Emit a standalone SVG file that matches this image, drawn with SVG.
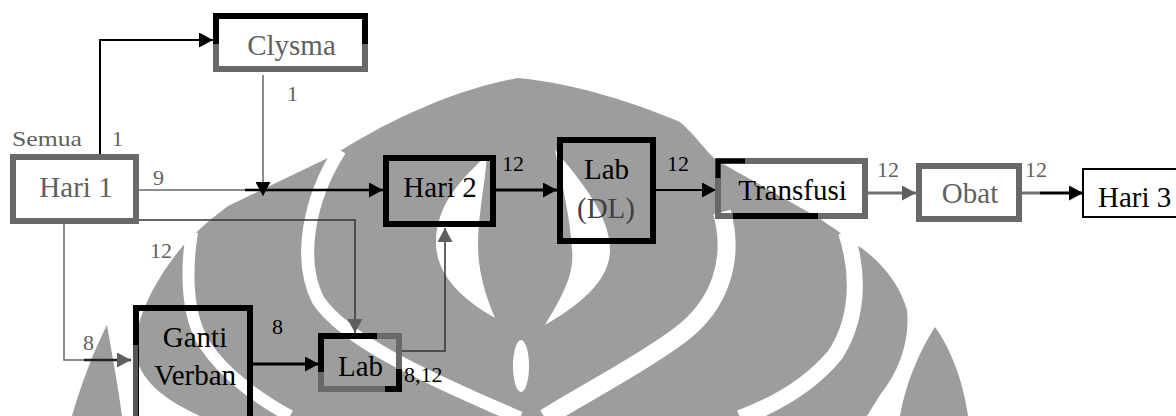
<svg xmlns="http://www.w3.org/2000/svg" width="1176" height="416" viewBox="0 0 1176 416">
<defs>
<style>
.lbl{font-size:29px;}
.num{font-size:22px;}
.c{text-anchor:middle;}
.g{fill:#606060;}
.k{fill:#000;}
.bg{fill:none;stroke:#696969;stroke-width:6;}
.bk{fill:none;stroke:#000;stroke-width:6;}
.wm{fill:#9d9d9d;}
.wb{fill:none;stroke:#fff;}
.ln{fill:none;}
</style>
<marker id="ab" markerUnits="userSpaceOnUse" markerWidth="14" markerHeight="15" viewBox="0 0 14 15" refX="14" refY="7.5" orient="auto"><path d="M0,0 L14,7.5 L0,15 Z" fill="#000"/></marker>
<marker id="ag" markerUnits="userSpaceOnUse" markerWidth="14" markerHeight="15" viewBox="0 0 14 15" refX="14" refY="7.5" orient="auto"><path d="M0,0 L14,7.5 L0,15 Z" fill="#5e5e5e"/></marker>
</defs>
<rect width="1176" height="416" fill="#fff"/>
<g id="watermark">
<path class="wm" d="M72,416 C85,372 97,345 107,325 C112,355 118,385 122,416 Z"/>
<path class="wm" d="M200,416 C165,400 138,380 135,350 C134,318 160,270 190,238 L210,220 L228,206 L334,155 C380,125 450,90 518,78 C580,84 640,105 680,122 C695,135 705,150 716,160 L817,217 C825,222 830,226 835,229 L852,242 C880,258 900,285 907,310 C910,340 900,370 880,395 L867,416 Z"/>
<path class="wm" d="M900,416 C905,385 920,350 935,327 C948,345 962,375 968,416 Z"/>
<path class="wb" stroke-width="12" d="M192,232 C186,270 186,315 205,345 C225,375 260,400 290,416"/>
<path class="wb" stroke-width="13" d="M340,150 C308,200 298,260 318,300 C345,340 420,375 520,418"/>
<path fill="#fff" d="M487,155 C460,180 437,205 436,240 C435,270 455,295 495,318 C485,295 478,270 478,245 C478,215 485,185 487,155 Z"/>
<path fill="#fff" d="M555,150 C580,180 610,215 610,250 C610,280 580,305 545,325 C560,300 575,275 572,250 C570,215 562,185 555,150 Z"/>
<ellipse cx="521" cy="366" rx="8" ry="26" fill="#fff"/>
<path class="wb" stroke-width="18" d="M722,212 C735,260 720,305 680,335 C640,365 590,390 545,418"/>
<path class="wb" stroke-width="16" d="M846,232 C860,275 858,320 835,355 C810,385 775,405 740,418"/>
</g>
<g id="connectors">
<path class="ln" stroke="#000" stroke-width="2" d="M100,154 V40 H213" marker-end="url(#ab)"/>
<path class="ln" stroke="#666" stroke-width="1.5" d="M263,75 V196" marker-end="url(#ab)"/>
<path class="ln" stroke="#666" stroke-width="1.5" d="M139,190 H245"/>
<path class="ln" stroke="#000" stroke-width="2.5" d="M245,190 H383" marker-end="url(#ab)"/>
<path class="ln" stroke="#000" stroke-width="3" d="M496,190 H557" marker-end="url(#ab)"/>
<path class="ln" stroke="#000" stroke-width="2" d="M656,190 H716" marker-end="url(#ab)"/>
<path class="ln" stroke="#707070" stroke-width="3" d="M868,193 H916" marker-end="url(#ag)"/>
<path class="ln" stroke="#707070" stroke-width="3" d="M1022,193 H1040"/>
<path class="ln" stroke="#000" stroke-width="3" d="M1040,193 H1083" marker-end="url(#ab)"/>
<path class="ln" stroke="#333" stroke-width="1.5" d="M139,220 H355 V333" marker-end="url(#ag)"/>
<path class="ln" stroke="#666" stroke-width="1.5" d="M64,224 V360 H84"/>
<path class="ln" stroke="#222" stroke-width="2.5" d="M84,360 H131" marker-end="url(#ag)"/>
<path class="ln" stroke="#000" stroke-width="3" d="M253,364 H319" marker-end="url(#ab)"/>
<path class="ln" stroke="#333" stroke-width="1.5" d="M402,351 H445 V228" marker-end="url(#ag)"/>
</g>
<g font-family="'Liberation Serif', 'Times New Roman', serif">
<g id="clysma">
<rect class="bg" x="216" y="16" width="149" height="53"/>
<path class="bk" d="M216,44 V16 H365 V44"/>
<text class="lbl c g" x="291.5" y="55">Clysma</text>
</g>
<g id="hari1">
<rect class="bg" x="13" y="157" width="123" height="64"/>
<text class="lbl c g" x="76" y="197">Hari 1</text>
<text class="num g" x="12" y="146" font-size="23" textLength="70" lengthAdjust="spacingAndGlyphs">Semua</text>
</g>
<g id="hari2">
<rect class="bk" x="386" y="158" width="107" height="66"/>
<text class="lbl c k" x="440" y="197">Hari 2</text>
</g>
<g id="labdl">
<rect class="bk" x="560" y="140" width="93" height="101"/>
<text class="lbl c k" x="606.5" y="179">Lab</text>
<text class="lbl c" x="606" y="218" fill="#404040">(DL)</text>
</g>
<g id="transfusi">
<rect class="bg" x="718" y="161" width="147" height="55"/>
<path fill="none" stroke="#000" stroke-width="5" d="M718,178 V161 H745"/>
<path fill="none" stroke="#000" stroke-width="6" d="M733,216 H818"/>
<text class="lbl c k" x="792.5" y="200">Transfusi</text>
</g>
<g id="obat">
<rect class="bg" x="919" y="166" width="100" height="53"/>
<text class="lbl c g" x="970" y="203">Obat</text>
</g>
<g id="hari3">
<rect x="1083" y="169" width="100" height="48" fill="#fff" stroke="#000" stroke-width="2"/>
<text class="lbl k" x="1098" y="207">Hari 3</text>
</g>
<g id="gantiverban">
<rect class="bk" x="136" y="308" width="114" height="120"/>
<path fill="none" stroke="#555" stroke-width="5" d="M135.5,345 V416"/>
<text class="lbl c k" x="195" y="347">Ganti</text>
<text class="lbl c k" x="195" y="385">Verban</text>
</g>
<g id="lab">
<rect class="bg" x="321" y="336" width="78" height="53"/>
<path class="bk" d="M321,372 V336 H377"/>
<path class="bk" d="M399,369 V389 H385"/>
<text class="lbl c k" x="360.5" y="376">Lab</text>
</g>
<g id="labels">
<text class="num g" x="112" y="146">1</text>
<text class="num g" x="287" y="101">1</text>
<text class="num g" x="153" y="185">9</text>
<text class="num g" x="150" y="258">12</text>
<text class="num g" x="83" y="350">8</text>
<text class="num k" x="272" y="334">8</text>
<text class="num k" x="404" y="382">8,12</text>
<text class="num k" x="502" y="171">12</text>
<text class="num k" x="667" y="171">12</text>
<text class="num g" x="877" y="177">12</text>
<text class="num g" x="1025" y="177">12</text>
</g>
</g>
</svg>
